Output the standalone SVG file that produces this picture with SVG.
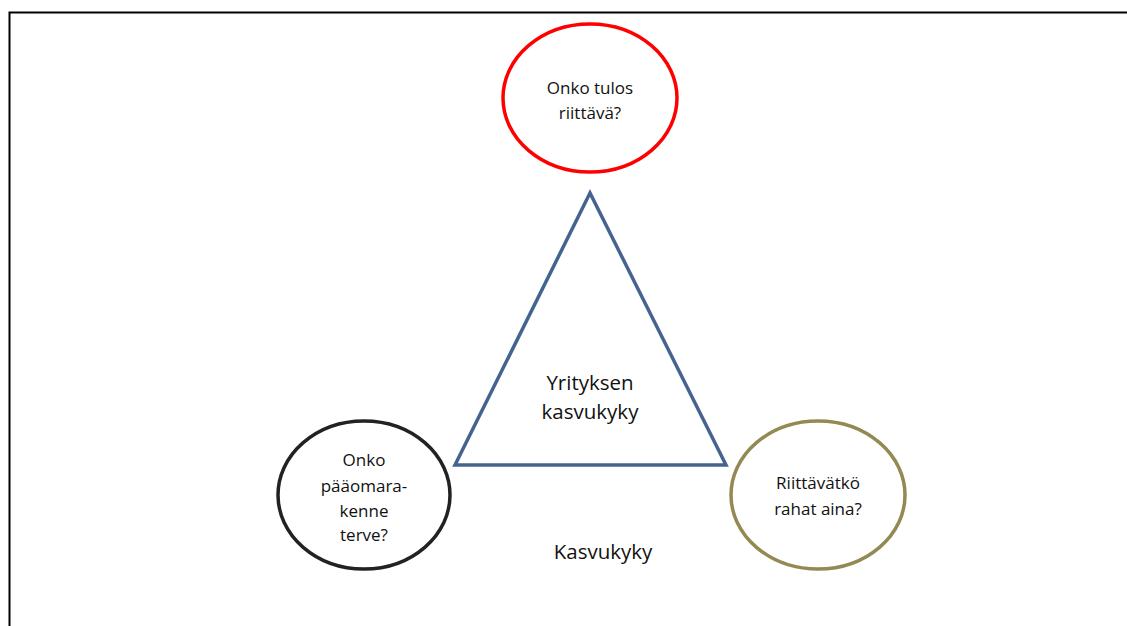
<svg xmlns="http://www.w3.org/2000/svg" width="1127" height="626" viewBox="0 0 1127 626">
<style>
.t{font-family:"Open Sans","Liberation Sans",sans-serif;fill:#111;text-anchor:middle}
.s{font-size:17px}
.b{font-size:20.5px}
.e{fill:#fff;stroke-width:3.5}
</style>
<rect width="1127" height="626" fill="#fff"/>
<path d="M9.5 626 V12.5 H1127" fill="none" stroke="#000" stroke-width="2"/>
<g id="tri">
<polygon points="590,193 455,465 726,465" fill="#fff" stroke="#44648F" stroke-width="3.5" stroke-linejoin="miter"/>
<text class="t b" x="590" y="390">Yrityksen</text>
<text class="t b" x="590" y="419">kasvukyky</text>
</g>
<g id="top">
<ellipse class="e" cx="590" cy="98" rx="87" ry="74" stroke="#FF0000"/>
<text class="t s" x="590" y="94">Onko tulos</text>
<text class="t s" x="590" y="119">riittävä?</text>
</g>
<g id="left">
<ellipse class="e" cx="364" cy="495" rx="86" ry="74" stroke="#222"/>
<text class="t s" x="364" y="466">Onko</text>
<text class="t s" x="364" y="492">pääomara-</text>
<text class="t s" x="364" y="517">kenne</text>
<text class="t s" x="364" y="541">terve?</text>
</g>
<g id="right">
<ellipse class="e" cx="818" cy="495" rx="87" ry="74" stroke="#938953"/>
<text class="t s" x="818" y="489">Riittävätkö</text>
<text class="t s" x="818" y="515">rahat aina?</text>
</g>
<g id="label">
<text class="t b" x="603" y="559">Kasvukyky</text>
</g>
<g id="connectors"/>
</svg>
